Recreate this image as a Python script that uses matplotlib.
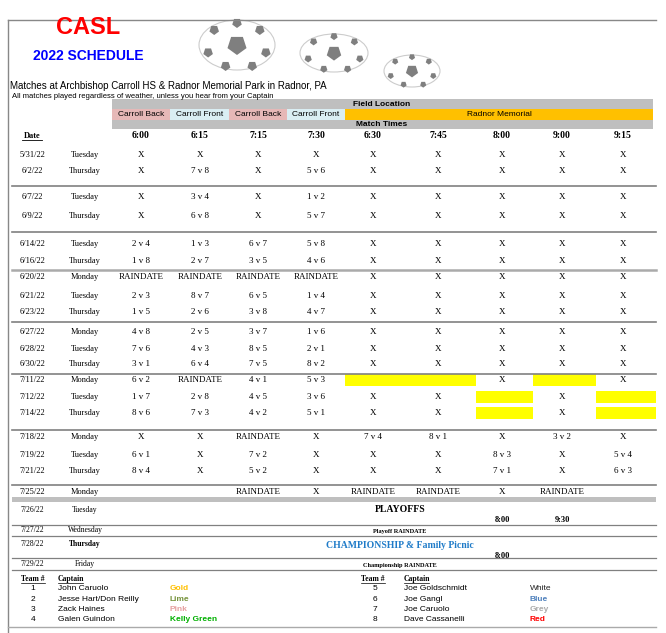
import matplotlib
matplotlib.use("Agg")
import matplotlib.pyplot as plt
from matplotlib.patches import Rectangle, Ellipse, RegularPolygon

# ===== data =====
times = ["6:00", "6:15", "7:15", "7:30", "6:30", "7:45", "8:00", "9:00", "9:15"]
fields = ["Carroll Back", "Carroll Front", "Carroll Back", "Carroll Front", "Radnor Memorial"]
field_colors = ["#E6B8B7", "#DAEEF3", "#E6B8B7", "#DAEEF3", "#FFC000"]

dates = ["5/31/22", "6/2/22", "6/7/22", "6/9/22", "6/14/22", "6/16/22",
         "6/20/22", "6/21/22", "6/23/22", "6/27/22", "6/28/22", "6/30/22",
         "7/11/22", "7/12/22", "7/14/22", "7/18/22", "7/19/22", "7/21/22", "7/25/22"]
days = ["Tuesday", "Thursday", "Tuesday", "Thursday", "Tuesday", "Thursday",
        "Monday", "Tuesday", "Thursday", "Monday", "Tuesday", "Thursday",
        "Monday", "Tuesday", "Thursday", "Monday", "Tuesday", "Thursday", "Monday"]
R = "RAINDATE"
games = [
    ["X", "X", "X", "X", "X", "X", "X", "X", "X"],
    ["X", "7 v 8", "X", "5 v 6", "X", "X", "X", "X", "X"],
    ["X", "3 v 4", "X", "1 v 2", "X", "X", "X", "X", "X"],
    ["X", "6 v 8", "X", "5 v 7", "X", "X", "X", "X", "X"],
    ["2 v 4", "1 v 3", "6 v 7", "5 v 8", "X", "X", "X", "X", "X"],
    ["1 v 8", "2 v 7", "3 v 5", "4 v 6", "X", "X", "X", "X", "X"],
    [R, R, R, R, "X", "X", "X", "X", "X"],
    ["2 v 3", "8 v 7", "6 v 5", "1 v 4", "X", "X", "X", "X", "X"],
    ["1 v 5", "2 v 6", "3 v 8", "4 v 7", "X", "X", "X", "X", "X"],
    ["4 v 8", "2 v 5", "3 v 7", "1 v 6", "X", "X", "X", "X", "X"],
    ["7 v 6", "4 v 3", "8 v 5", "2 v 1", "X", "X", "X", "X", "X"],
    ["3 v 1", "6 v 4", "7 v 5", "8 v 2", "X", "X", "X", "X", "X"],
    ["6 v 2", R, "4 v 1", "5 v 3", "", "", "X", "", "X"],
    ["1 v 7", "2 v 8", "4 v 5", "3 v 6", "X", "X", "", "X", ""],
    ["8 v 6", "7 v 3", "4 v 2", "5 v 1", "X", "X", "", "X", ""],
    ["X", "X", R, "X", "7 v 4", "8 v 1", "X", "3 v 2", "X"],
    ["6 v 1", "X", "7 v 2", "X", "X", "X", "8 v 3", "X", "5 v 4"],
    ["8 v 4", "X", "5 v 2", "X", "X", "X", "7 v 1", "X", "6 v 3"],
    ["", "", R, "X", R, R, "X", R, ""],
]
# yellow cells: (row, first col, last col)
yellow = [(12, 4, 5), (12, 7, 7), (13, 6, 6), (13, 8, 8), (14, 6, 6), (14, 8, 8)]

post_dates = ["7/26/22", "7/27/22", "7/28/22", "7/29/22"]
post_days = ["Tuesday", "Wednesday", "Thursday", "Friday"]
post_events = ["PLAYOFFS", "Playoff RAINDATE", "CHAMPIONSHIP & Family Picnic", "Championship RAINDATE"]

team_nums = [1, 2, 3, 4, 5, 6, 7, 8]
captains = ["John Caruolo", "Jesse Hart/Don Reilly", "Zack Haines", "Galen Guindon",
            "Joe Goldschmidt", "Joe Gangl", "Joe Caruolo", "Dave Cassanelli"]
team_colors = ["Gold", "Lime", "Pink", "Kelly Green", "White", "Blue", "Grey", "Red"]
team_color_hex = ["#FFC000", "#76933C", "#E6A0A0", "#00B000", "#222222", "#4F81BD", "#AAAAAA", "#FF0000"]

# ===== layout =====
col_x = [141, 200, 258, 316, 373, 438, 502, 562, 623]
col_edges = [112, 170, 229, 287, 345, 406, 476, 533, 596, 656]
row_y = [155, 171, 197, 216, 244, 261, 277, 296, 312, 332, 349, 364,
         380, 397, 413, 437, 455, 471, 492]
sep_y = [186, 232, 322, 374, 430, 485]
serif = "Liberation Serif"
sans = "Liberation Sans"

fig = plt.figure(figsize=(6.66, 6.33), dpi=100)
ax = fig.add_axes([0, 0, 1, 1])
ax.set_xlim(0, 666)
ax.set_ylim(633, 0)
ax.axis("off")

# frame
ax.plot([8, 656], [20, 20], color="#888888", lw=1)
ax.plot([8, 8], [20, 633], color="#888888", lw=1)

# title
ax.text(88, 27, "CASL", color="#FF0000", fontsize=17, fontweight="bold", family=sans, ha="center", va="center")
ax.text(88, 56, "2022 SCHEDULE", color="#0000FF", fontsize=10, fontweight="bold", family=sans, ha="center", va="center")
ax.text(10, 86, "Matches at Archbishop Carroll HS & Radnor Memorial Park in Radnor, PA", fontsize=7, family=sans, va="center")
ax.text(12, 96, "All matches played regardless of weather, unless you hear from your Captain", fontsize=5.5, family=sans, va="center")

# soccer balls
for cx, cy, w, h in [(237, 45, 76, 50), (334, 53, 68, 38), (412, 71, 56, 32)]:
    ax.add_patch(Ellipse((cx, cy), w, h, fc="white", ec="#CCCCCC", lw=0.8))
    ax.add_patch(RegularPolygon((cx, cy), 5, radius=h * 0.2, fc="#7F7F7F", ec="none"))
    for dx, dy in [(-0.3, -0.3), (0.3, -0.3), (-0.38, 0.15), (0.38, 0.15), (-0.15, 0.42), (0.2, 0.42), (0, -0.44)]:
        ax.add_patch(RegularPolygon((cx + dx * w, cy + dy * h), 5, radius=h * 0.1, fc="#7F7F7F", ec="none"))

# header bands
ax.add_patch(Rectangle((112, 99), 541, 10, fc="#BFBFBF", ec="none"))
ax.add_patch(Rectangle((112, 120), 541, 9, fc="#BFBFBF", ec="none"))
ax.text(382, 104, "Field Location", fontsize=6, fontweight="bold", family=sans, ha="center", va="center")
ax.text(382, 125, "Match Times", fontsize=6, fontweight="bold", family=sans, ha="center", va="center")
field_spans = [(112, 170), (170, 229), (229, 287), (287, 345), (345, 653)]
for (x0, x1), name, c in zip(field_spans, fields, field_colors):
    ax.add_patch(Rectangle((x0, 109), x1 - x0, 11, fc=c, ec="none"))
    ax.text((x0 + x1) / 2, 115, name, fontsize=6, family=sans, ha="center", va="center")
for x, t in zip(col_x, times):
    ax.text(x, 135, t, fontsize=7, fontweight="bold", family=serif, ha="center", va="center")
ax.text(32, 136, "Date", fontsize=6, fontweight="bold", family=serif, ha="center", va="center")
ax.plot([22, 42], [140, 140], color="black", lw=0.6)

# yellow cells
for r, c0, c1 in yellow:
    y = row_y[r]
    ax.add_patch(Rectangle((col_edges[c0], y - 6), col_edges[c1 + 1] - col_edges[c0], 12, fc="#FFFF00", ec="none"))

# schedule rows
for y, d, dy, g in zip(row_y, dates, days, games):
    ax.text(32, y, d, fontsize=6, family=serif, ha="center", va="center")
    ax.text(85, y, dy, fontsize=6, family=serif, ha="center", va="center")
    for x, s in zip(col_x, g):
        ax.text(x, y, s, fontsize=6.5, family=serif, ha="center", va="center")

for y in sep_y:
    ax.plot([12, 656], [y, y], color="#808080", lw=1.2)
ax.plot([12, 656], [270, 270], color="#AAAAAA", lw=1.8)
ax.add_patch(Rectangle((12, 497), 644, 5, fc="#BFBFBF", ec="none"))

# post season
post_y = [510, 530, 544, 564]
for y, d, dy in zip(post_y, post_dates, post_days):
    ax.text(32, y, d, fontsize=5.5, family=serif, ha="center", va="center")
    ax.text(85, y, dy, fontsize=5.5, family=serif, ha="center", va="center",
            fontweight="bold" if dy == "Thursday" else "normal")
ax.text(400, 509, post_events[0], fontsize=7, fontweight="bold", family=serif, ha="center", va="center")
ax.text(502, 520, "8:00", fontsize=6, fontweight="bold", family=serif, ha="center", va="center")
ax.text(562, 520, "9:30", fontsize=6, fontweight="bold", family=serif, ha="center", va="center")
ax.text(400, 531, post_events[1], fontsize=4.5, fontweight="bold", family=serif, ha="center", va="center")
ax.text(400, 545, post_events[2], fontsize=7, fontweight="bold", family=serif, color="#1F7BC8", ha="center", va="center")
ax.text(502, 556, "8:00", fontsize=6, fontweight="bold", family=serif, ha="center", va="center")
ax.text(400, 565, post_events[3], fontsize=4.5, fontweight="bold", family=serif, ha="center", va="center")
for y in [525, 536, 558, 570]:
    ax.plot([12, 656], [y, y], color="#808080", lw=0.9)

# teams
for xn, xc in [(33, 58), (373, 404)]:
    ax.text(xn, 579, "Team #", fontsize=5.5, fontweight="bold", family=serif, ha="center", va="center")
    ax.plot([xn - 12, xn + 12], [583, 583], color="black", lw=0.5)
    ax.text(xc, 579, "Captain", fontsize=5.5, fontweight="bold", family=serif, va="center")
    ax.plot([xc, xc + 25], [583, 583], color="black", lw=0.5)
for i, (n, cap, col, hx) in enumerate(zip(team_nums, captains, team_colors, team_color_hex)):
    side = i // 4
    y = 589 + (i % 4) * 10.3
    xn, xc, xk = [(33, 58, 170), (375, 404, 530)][side]
    ax.text(xn, y, str(n), fontsize=6, family=sans, ha="center", va="center")
    ax.text(xc, y, cap, fontsize=6, family=sans, va="center")
    ax.text(xk, y, col, fontsize=6, family=sans, color=hx, va="center",
            fontweight="normal" if col in ("White",) else "bold")
ax.plot([8, 656], [627, 627], color="#AAAAAA", lw=1)

fig.savefig("out.png", dpi=100)
